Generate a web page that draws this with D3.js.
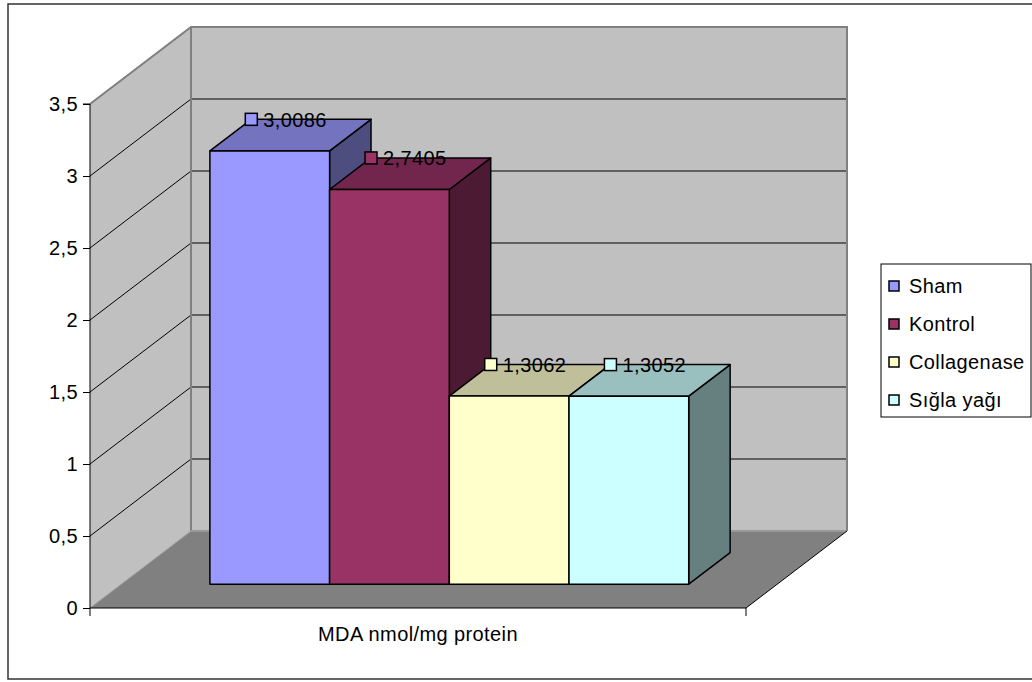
<!DOCTYPE html>
<html>
<head>
<meta charset="utf-8">
<script src="https://cdn.jsdelivr.net/npm/d3@7"></script>
<style>
  html, body { margin: 0; padding: 0; background: #ffffff; }
  svg { display: block; }
  text { font-family: "Liberation Sans", Arial, sans-serif; fill: #000; letter-spacing: 0.4px; }
</style>
</head>
<body>
<svg id="chart" width="1032" height="682"></svg>
<script>
// MDA levels per group (nmol/mg protein)
const category = "MDA nmol/mg protein";
const seriesNames = ["Sham", "Kontrol", "Collagenase", "Sığla yağı"];
const seriesValues = [3.0086, 2.7405, 1.3062, 1.3052];
const valueLabels = ["3,0086", "2,7405", "1,3062", "1,3052"];
const seriesColors = ["#9999ff", "#993366", "#ffffcc", "#ccffff"];
const yTicks = [0, 0.5, 1, 1.5, 2, 2.5, 3, 3.5];
const yTickLabels = ["0", "0,5", "1", "1,5", "2", "2,5", "3", "3,5"];

const svg = d3.select("#chart");
const FONT = 20;

// oblique depth projection: full depth shifts right and up
const DEPTH_X = 101, DEPTH_Y = -77;
const proj = (x, y, d) => [x + d * DEPTH_X, y + d * DEPTH_Y];
const poly = pts => pts.map(p => p.join(",")).join(" ");

const plot = { left: 90, right: 746, top: 104, bottom: 608 };
const y = d3.scaleLinear().domain([0, 3.5]).range([plot.bottom, plot.top]);
const x = d3.scaleBand().domain(seriesNames)
  .range([plot.left, plot.right]).paddingInner(0).paddingOuter(0.74);

// outer chart frame
svg.append("rect").attr("x", 8).attr("y", 4).attr("width", 1040).attr("height", 675)
  .attr("fill", "#fff").attr("stroke", "#333").attr("stroke-width", 1.5);

const yMax = y(3.5), y0 = y(0);
// left side wall
svg.append("polygon")
  .attr("points", poly([[plot.left, yMax], proj(plot.left, yMax, 1), proj(plot.left, y0, 1), [plot.left, y0]]))
  .attr("fill", "#c0c0c0");
// back wall
svg.append("polygon")
  .attr("points", poly([proj(plot.left, yMax, 1), proj(plot.right, yMax, 1), proj(plot.right, y0, 1), proj(plot.left, y0, 1)]))
  .attr("fill", "#c0c0c0");
// floor
svg.append("polygon")
  .attr("points", poly([[plot.left, y0], [plot.right, y0], proj(plot.right, y0, 1), proj(plot.left, y0, 1)]))
  .attr("fill", "#808080");

// gridlines on the back wall and side wall
const grid = svg.append("g").attr("stroke", "#000").attr("stroke-width", 1);
yTicks.filter(t => t > 0 && t < 3.5).forEach(t => {
  const a = proj(plot.left, y(t), 1), b = proj(plot.right, y(t), 1);
  grid.append("line").attr("x1", a[0]).attr("y1", a[1]).attr("x2", b[0]).attr("y2", b[1]);
});
yTicks.filter(t => t > 0).forEach(t => {
  const b = proj(plot.left, y(t), 1);
  grid.append("line").attr("x1", plot.left).attr("y1", y(t)).attr("x2", b[0]).attr("y2", b[1]);
});

// wall outlines
const edge = svg.append("g").attr("fill", "none").attr("stroke", "#808080").attr("stroke-width", 2);
edge.append("polyline").attr("points", poly([
  [plot.left, yMax], proj(plot.left, yMax, 1), proj(plot.right, yMax, 1), proj(plot.right, y0, 1)
]));
edge.append("line").attr("x1", proj(plot.left, yMax, 1)[0]).attr("y1", proj(plot.left, yMax, 1)[1])
  .attr("x2", proj(plot.left, y0, 1)[0]).attr("y2", proj(plot.left, y0, 1)[1]);
edge.append("line").attr("x1", proj(plot.left, y0, 1)[0]).attr("y1", proj(plot.left, y0, 1)[1])
  .attr("x2", proj(plot.right, y0, 1)[0]).attr("y2", proj(plot.right, y0, 1)[1]).attr("stroke", "#999");
edge.append("line").attr("x1", plot.left).attr("y1", y0)
  .attr("x2", proj(plot.left, y0, 1)[0]).attr("y2", proj(plot.left, y0, 1)[1]).attr("stroke", "#a0a0a0").attr("stroke-width", 1);
// floor right edge
svg.append("line").attr("x1", plot.right).attr("y1", y0)
  .attr("x2", proj(plot.right, y0, 1)[0]).attr("y2", proj(plot.right, y0, 1)[1])
  .attr("stroke", "#000").attr("stroke-width", 1);

// value axis on the front-left edge
const yAxis = d3.axisLeft(y).tickValues(yTicks)
  .tickFormat((d, i) => yTickLabels[i]).tickSize(7).tickPadding(5);
const yG = svg.append("g").attr("transform", `translate(${plot.left},0)`).call(yAxis);
yG.select(".domain").attr("stroke", "#000").attr("d", `M-7,${yMax}H0V${y0}`);
yG.selectAll(".tick line").attr("stroke", "#000");
yG.selectAll(".tick text").attr("font-size", FONT).attr("font-family", "Liberation Sans, Arial, sans-serif").attr("fill", "#000");

// category axis along the floor front edge
const xCat = d3.scaleBand().domain([category]).range([plot.left, plot.right]);
const xAxis = d3.axisBottom(xCat).tickSize(0).tickPadding(19);
const xG = svg.append("g").attr("transform", `translate(0,${y0})`).call(xAxis);
xG.select(".domain").attr("stroke", "#000").attr("d", `M${plot.left},8V0H${plot.right}V8`);
xG.selectAll(".tick text").attr("font-size", FONT).attr("font-family", "Liberation Sans, Arial, sans-serif").attr("fill", "#000");

// 3D columns
const D1 = 0.31, D2 = 0.72;
const shade = (c, k) => { const r = d3.rgb(c); return d3.rgb(r.r * k, r.g * k, r.b * k).formatHex(); };
const bars = svg.append("g").attr("stroke", "#000").attr("stroke-width", 1.5).attr("stroke-linejoin", "round");
seriesNames.forEach((name, i) => {
  const xl = x(name), xr = x(name) + x.bandwidth();
  const yt = y(seriesValues[i]), yb = y(0);
  const fl = proj(xl, yt, D1), fr = proj(xr, yt, D1), frb = proj(xr, yb, D1), flb = proj(xl, yb, D1);
  const bl = proj(xl, yt, D2), br = proj(xr, yt, D2), brb = proj(xr, yb, D2);
  bars.append("polygon").attr("points", poly([fr, br, brb, frb])).attr("fill", shade(seriesColors[i], 0.5));
  bars.append("polygon").attr("points", poly([fl, bl, br, fr])).attr("fill", shade(seriesColors[i], 0.75));
  bars.append("polygon").attr("points", poly([fl, fr, frb, flb])).attr("fill", seriesColors[i]);
});

// data labels with legend keys
const labels = svg.append("g");
seriesNames.forEach((name, i) => {
  const p = proj(x(name), y(seriesValues[i]), D2);
  labels.append("rect").attr("x", p[0] - 6).attr("y", p[1] - 6).attr("width", 12).attr("height", 12)
    .attr("fill", seriesColors[i]).attr("stroke", "#000").attr("stroke-width", 1.5);
  labels.append("text").attr("x", p[0] + 12).attr("y", p[1]).attr("dy", "0.36em")
    .attr("font-size", FONT).text(valueLabels[i]);
});

// legend
const lg = svg.append("g").attr("transform", "translate(881,264)");
lg.append("rect").attr("width", 150).attr("height", 153).attr("fill", "#fff").attr("stroke", "#000").attr("stroke-width", 1);
seriesNames.forEach((name, i) => {
  const cy = 22 + i * 38;
  lg.append("rect").attr("x", 8).attr("y", cy - 5).attr("width", 10).attr("height", 10)
    .attr("fill", seriesColors[i]).attr("stroke", "#000").attr("stroke-width", 1.5);
  lg.append("text").attr("x", 28).attr("y", cy).attr("dy", "0.36em").attr("font-size", FONT).text(name);
});
</script>
</body>
</html>
